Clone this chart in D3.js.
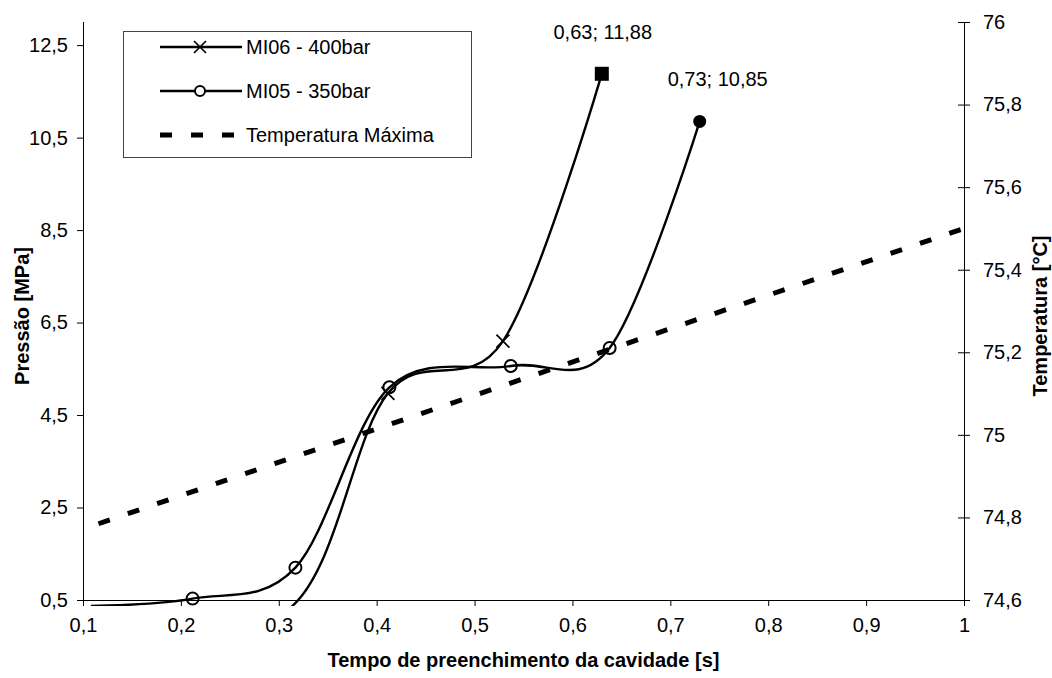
<!DOCTYPE html>
<html><head><meta charset="utf-8">
<script src="https://cdn.jsdelivr.net/npm/d3@7"></script>
<style>
body{margin:0;background:#fff}
text{font-family:"Liberation Sans",Arial,Helvetica,sans-serif;fill:#000}
</style>
</head><body>
<svg id="chart" width="1052" height="678"></svg>
<script>
// ---- data ----
const xTicks = [0.1,0.2,0.3,0.4,0.5,0.6,0.7,0.8,0.9,1];
const leftTicks = [0.5,2.5,4.5,6.5,8.5,10.5,12.5];
const rightTicks = [74.6,74.8,75,75.2,75.4,75.6,75.8,76];

const mi06X = [0.11, 0.31, 0.4115, 0.529, 0.63];
const mi06Y = [0.0, 0.30, 4.97, 6.10, 11.88];
const mi05X = [0.108, 0.212, 0.317, 0.413, 0.537, 0.638, 0.73];
const mi05Y = [0.37, 0.53, 1.20, 5.10, 5.56, 5.95, 10.85];
const tempX = [0.11, 1.0];
const tempY = [74.78, 75.5];

const seriesNames = ["MI06 - 400bar", "MI05 - 350bar", "Temperatura Máxima"];
const xTitle = "Tempo de preenchimento da cavidade [s]";
const yTitle = "Pressão [MPa]";
const y2Title = "Temperatura [°C]";

// ---- layout ----
const L = 83, R = 964, T = 22, B = 600;
const svg = d3.select("#chart");
const x = d3.scaleLinear().domain([0.1, 1]).range([L, R]);
const y = d3.scaleLinear().domain([0.5, 13]).range([B, T]);
const y2 = d3.scaleLinear().domain([74.6, 76]).range([B, T]);
const fmt = v => String(+v.toFixed(2)).replace(".", ",");
const FS = 20;

svg.append("defs").append("clipPath").attr("id","plotclip")
  .append("rect").attr("x", L).attr("y", T).attr("width", R - L).attr("height", B - T + 6);

// axes
const gx = svg.append("g").attr("transform", `translate(0,${B})`)
  .call(d3.axisBottom(x).tickValues(xTicks).tickFormat(fmt).tickSize(6).tickSizeOuter(0).tickPadding(12));
const gy = svg.append("g").attr("transform", `translate(${L},0)`)
  .call(d3.axisLeft(y).tickValues(leftTicks).tickFormat(fmt).tickSize(6).tickSizeOuter(0).tickPadding(9));
const gy2 = svg.append("g").attr("transform", `translate(${R},0)`)
  .call(d3.axisRight(y2).tickValues(rightTicks).tickFormat(fmt).tickSize(6).tickSizeOuter(0).tickPadding(13));
gy2.selectAll(".tick line").attr("x1", -6);
[gx, gy, gy2].forEach(g => {
  g.select(".domain").attr("stroke", "#000").attr("stroke-width", 1);
  g.selectAll(".tick line").attr("stroke", "#000");
  g.selectAll(".tick text").attr("font-size", FS).attr("font-family", '"Liberation Sans",Arial,sans-serif').attr("fill","#000");
});
gy.select(".domain").attr("d", `M0.5,${T}V${B+6}`);
gy2.select(".domain").attr("d", `M0.5,${T}V${B}`);

// titles
svg.append("text").attr("x", (L + R) / 2).attr("y", 667).attr("text-anchor", "middle")
  .attr("font-size", FS).attr("font-weight", "bold").text(xTitle);
svg.append("text").attr("transform", `translate(29,${(T + B) / 2 + 5}) rotate(-90)`).attr("text-anchor", "middle")
  .attr("font-size", FS).attr("font-weight", "bold").text(yTitle);
svg.append("text").attr("transform", `translate(1047,${(T + B) / 2 + 5}) rotate(-90)`).attr("text-anchor", "middle")
  .attr("font-size", FS).attr("font-weight", "bold").text(y2Title);

// temperature (secondary axis)
const tempData = tempX.map((v, i) => [v, tempY[i]]);
svg.append("path").datum(tempData)
  .attr("d", d3.line().x(d => x(d[0])).y(d => y2(d[1])))
  .attr("fill", "none").attr("stroke", "#000").attr("stroke-width", 5)
  .attr("stroke-dasharray", "12,19").attr("stroke-dashoffset", -6);

// pressure series
const curve = d3.curveCardinal.tension(0);
const line = d3.line().x(d => x(d[0])).y(d => y(d[1])).curve(curve);
const mi06 = mi06X.map((v, i) => [v, mi06Y[i]]);
const mi05 = mi05X.map((v, i) => [v, mi05Y[i]]);
const plot = svg.append("g").attr("clip-path", "url(#plotclip)");
[mi06, mi05].forEach(d => {
  plot.append("path").datum(d).attr("d", line)
    .attr("fill", "none").attr("stroke", "#000").attr("stroke-width", 2.4);
});

function xMark(g, cx, cy, s) {
  g.append("path").attr("d", `M${cx - s},${cy - s}L${cx + s},${cy + s}M${cx - s},${cy + s}L${cx + s},${cy - s}`)
    .attr("stroke", "#000").attr("stroke-width", 1.7).attr("fill", "none");
}
function oMark(g, cx, cy, r) {
  g.append("circle").attr("cx", cx).attr("cy", cy).attr("r", r)
    .attr("fill", "none").attr("stroke", "#000").attr("stroke-width", 2);
}
const inRange = d => d[1] >= y.domain()[0];
// MI06 markers (last point is a filled square)
mi06.forEach((d, i) => {
  if (!inRange(d)) return;
  if (i === mi06.length - 1) {
    svg.append("rect").attr("x", x(d[0]) - 7).attr("y", y(d[1]) - 7).attr("width", 14).attr("height", 14).attr("fill", "#000");
  } else xMark(svg, x(d[0]), y(d[1]), 6.5);
});
mi05.forEach((d, i) => {
  if (!inRange(d)) return;
  if (i === mi05.length - 1) {
    svg.append("circle").attr("cx", x(d[0])).attr("cy", y(d[1])).attr("r", 6.5).attr("fill", "#000");
  } else oMark(svg, x(d[0]), y(d[1]), 6);
});

// data labels for the last points
const labelOffsets = [[1, -42], [18, -42]];
[mi06, mi05].forEach((s, k) => {
  const d = s[s.length - 1];
  svg.append("text").attr("x", x(d[0]) + labelOffsets[k][0]).attr("y", y(d[1]) + labelOffsets[k][1])
    .attr("text-anchor", "middle").attr("dominant-baseline", "central").attr("font-size", FS)
    .text(fmt(d[0]) + "; " + fmt(d[1]));
});

// legend
const lg = svg.append("g");
lg.append("rect").attr("x", 123.5).attr("y", 31.5).attr("width", 348).attr("height", 126)
  .attr("fill", "#fff").attr("stroke", "#444").attr("stroke-width", 1);
const rowsY = [47, 91, 135];
seriesNames.forEach((name, i) => {
  const yy = rowsY[i];
  if (i < 2) {
    lg.append("line").attr("x1", 160).attr("x2", 242).attr("y1", yy).attr("y2", yy)
      .attr("stroke", "#000").attr("stroke-width", 2.4);
    if (i === 0) xMark(lg, 200, yy, 6);
    else lg.append("circle").attr("cx",200).attr("cy",yy).attr("r",5).attr("fill","#fff").attr("stroke","#000").attr("stroke-width",2);
  } else {
    lg.append("line").attr("x1", 160).attr("x2", 242).attr("y1", yy).attr("y2", yy)
      .attr("stroke", "#000").attr("stroke-width", 5).attr("stroke-dasharray", "12,19");
  }
  lg.append("text").attr("x", 246).attr("y", yy).attr("dominant-baseline", "central")
    .attr("font-size", FS).text(name);
});
</script>
</body></html>
